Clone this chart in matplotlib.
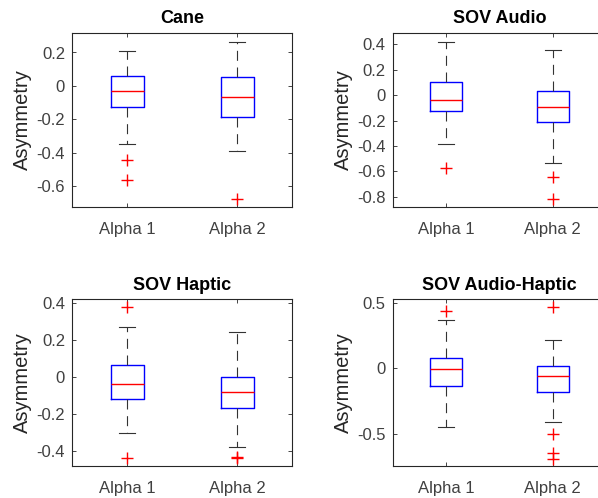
import matplotlib
matplotlib.use("Agg")
import matplotlib.pyplot as plt
from matplotlib.ticker import FormatStrFormatter

plt.rcParams['font.family'] = ['Liberation Sans', 'DejaVu Sans']
plt.rcParams['axes.unicode_minus'] = False

# asymmetry summaries for each condition, two alpha settings per panel
titles = ["Cane", "SOV Audio", "SOV Haptic", "SOV Audio-Haptic"]
groups = ["Alpha 1", "Alpha 2"]
medians = [[-0.030, -0.070], [-0.037, -0.090], [-0.034, -0.077], [-0.003, -0.059]]
q1 = [[-0.126, -0.190], [-0.126, -0.208], [-0.115, -0.166], [-0.135, -0.183]]
q3 = [[0.058, 0.050], [0.100, 0.036], [0.069, 0.004], [0.076, 0.020]]
whislo = [[-0.346, -0.388], [-0.384, -0.532], [-0.303, -0.375], [-0.444, -0.411]]
whishi = [[0.210, 0.264], [0.421, 0.353], [0.272, 0.247], [0.368, 0.216]]
fliers = [
    [[-0.442, -0.566], [-0.678]],
    [[-0.576], [-0.647, -0.821]],
    [[0.378, -0.438], [-0.430, -0.436]],
    [[0.436], [0.467, -0.497, -0.647, -0.690]],
]
ylims = [(-0.727, 0.317), (-0.881, 0.490), (-0.480, 0.422), (-0.744, 0.526)]
yticks = [
    [-0.6, -0.4, -0.2, 0, 0.2],
    [-0.8, -0.6, -0.4, -0.2, 0, 0.2, 0.4],
    [-0.4, -0.2, 0, 0.2, 0.4],
    [-0.5, 0, 0.5],
]

W, H = 598, 498
fig = plt.figure(figsize=(W / 100, H / 100), dpi=100)

# axes boxes in pixels: left, top, right, bottom
boxes = [
    (72, 33, 292, 207),
    (392.7, 33, 606, 207),
    (72, 299.3, 292, 466),
    (392.7, 299.3, 606, 466),
]

for i in range(4):
    l, t, r, b = boxes[i]
    ax = fig.add_axes([l / W, 1 - b / H, (r - l) / W, (b - t) / H])
    stats = []
    for j in range(2):
        stats.append(dict(med=medians[i][j], q1=q1[i][j], q3=q3[i][j],
                          whislo=whislo[i][j], whishi=whishi[i][j],
                          fliers=fliers[i][j], label=groups[j]))
    ax.bxp(stats, positions=[1, 2], widths=0.3, capwidths=0.15,
           boxprops=dict(color='blue', linewidth=1.0),
           medianprops=dict(color='red', linewidth=1.0),
           whiskerprops=dict(color='#333333', linewidth=0.8, linestyle=(0, (9, 6))),
           capprops=dict(color='#333333', linewidth=0.8),
           flierprops=dict(marker='+', markeredgecolor='red', markersize=8,
                           markeredgewidth=1.0, linestyle='none'))
    ax.set_xlim(0.5, 2.5)
    ax.set_ylim(*ylims[i])
    ax.set_yticks(yticks[i])
    ax.yaxis.set_major_formatter(FormatStrFormatter('%g'))
    ax.tick_params(direction='in', length=3, width=0.6, top=True, right=True,
                   labelsize=12, colors='#262626', labelcolor='#404040', pad=5)
    ax.tick_params(axis='x', pad=11)
    for s in ax.spines.values():
        s.set_linewidth(0.8)
        s.set_color('#262626')
    ax.set_title(titles[i], fontsize=13, fontweight='bold', pad=7)
    ax.set_ylabel("Asymmetry", fontsize=14.5, color='#262626', labelpad=3)

fig.savefig("out.png", dpi=100)
